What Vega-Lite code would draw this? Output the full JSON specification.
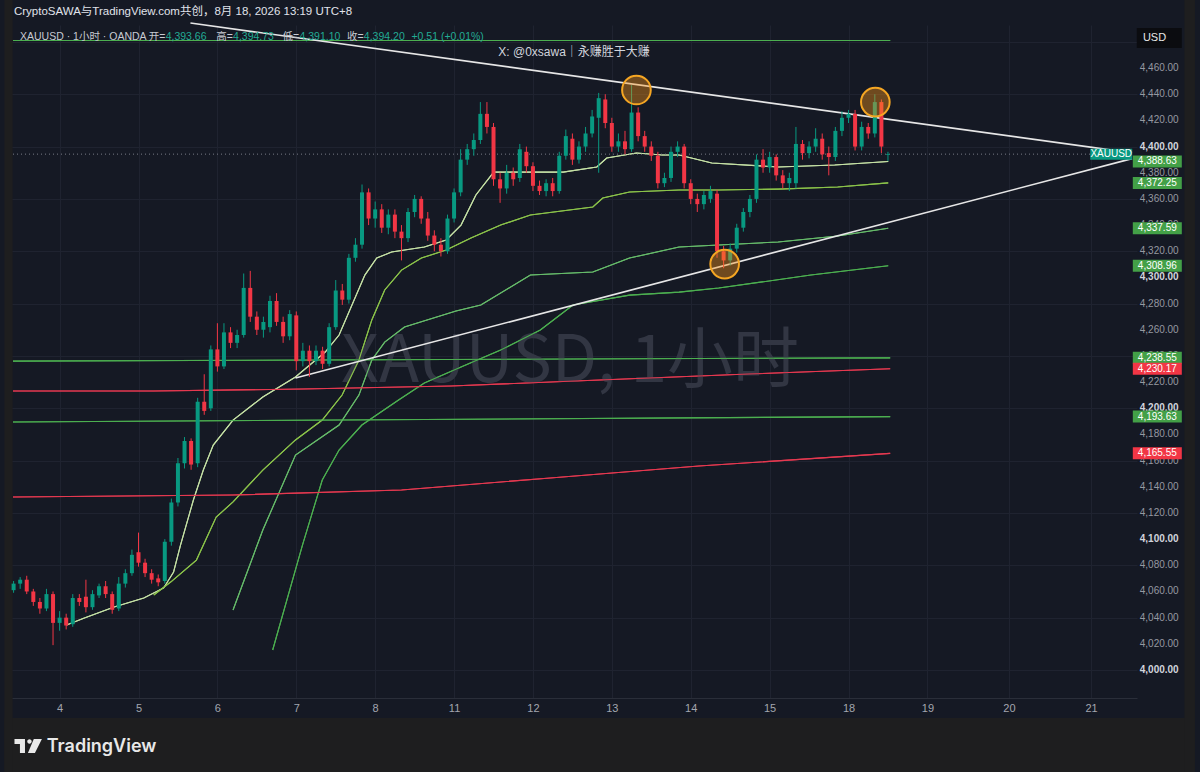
{
"$schema":"https://vega.github.io/schema/vega-lite/v6.json",
"width":1129,"height":673,
"autosize":{"type":"none"},
"padding":{"left":8,"top":25,"right":63,"bottom":74},
"background":"#151924",
"config":{"view":{"stroke":null,"fill":"#151924"},"font":"Liberation Sans"},
"resolve":{"scale":{"color":"independent"}},
"datasets":{
"ticks":[{"p":4000},{"p":4020},{"p":4040},{"p":4060},{"p":4080},{"p":4100},{"p":4120},{"p":4140},{"p":4160},{"p":4180},{"p":4200},{"p":4220},{"p":4240},{"p":4260},{"p":4280},{"p":4300},{"p":4320},{"p":4340},{"p":4360},{"p":4380},{"p":4400},{"p":4420},{"p":4440},{"p":4460}],
"candles":[
{"i":-7,"o":4061,"h":4068,"l":4059,"c":4066},{"i":-6,"o":4066,"h":4071,"l":4062,"c":4069},{"i":-5,"o":4069,"h":4072,"l":4058,"c":4060},{"i":-4,"o":4060,"h":4062,"l":4049,"c":4052},{"i":-3,"o":4052,"h":4055,"l":4043,"c":4047},{"i":-2,"o":4047,"h":4062,"l":4045,"c":4058},{"i":-1,"o":4058,"h":4060,"l":4019,"c":4036},
{"i":0,"o":4036,"h":4045,"l":4030,"c":4040},{"i":1,"o":4040,"h":4043,"l":4031,"c":4034},{"i":2,"o":4035,"h":4058,"l":4033,"c":4055},{"i":3,"o":4055,"h":4058,"l":4049,"c":4052},{"i":4,"o":4056,"h":4069,"l":4044,"c":4048},{"i":5,"o":4048,"h":4061,"l":4046,"c":4058},{"i":6,"o":4057,"h":4066,"l":4055,"c":4064},{"i":7,"o":4064,"h":4068,"l":4055,"c":4058},{"i":8,"o":4058,"h":4060,"l":4043,"c":4046},{"i":9,"o":4047,"h":4071,"l":4045,"c":4066},{"i":10,"o":4066,"h":4077,"l":4063,"c":4074},{"i":11,"o":4074,"h":4092,"l":4072,"c":4088},
{"i":12,"o":4090,"h":4105,"l":4079,"c":4082},{"i":13,"o":4082,"h":4085,"l":4071,"c":4074},{"i":14,"o":4074,"h":4077,"l":4066,"c":4069},{"i":15,"o":4070,"h":4073,"l":4064,"c":4067},{"i":16,"o":4068,"h":4100,"l":4066,"c":4098},{"i":17,"o":4098,"h":4131,"l":4095,"c":4128},{"i":18,"o":4128,"h":4162,"l":4125,"c":4158},{"i":19,"o":4158,"h":4178,"l":4154,"c":4175},{"i":20,"o":4175,"h":4177,"l":4153,"c":4157},{"i":21,"o":4158,"h":4208,"l":4155,"c":4205},{"i":22,"o":4205,"h":4226,"l":4195,"c":4198},{"i":23,"o":4200,"h":4248,"l":4198,"c":4245},
{"i":24,"o":4245,"h":4265,"l":4228,"c":4232},{"i":25,"o":4232,"h":4265,"l":4230,"c":4258},{"i":26,"o":4258,"h":4262,"l":4246,"c":4250},{"i":27,"o":4250,"h":4260,"l":4246,"c":4256},{"i":28,"o":4256,"h":4303,"l":4254,"c":4292},{"i":29,"o":4292,"h":4305,"l":4266,"c":4270},{"i":30,"o":4270,"h":4274,"l":4256,"c":4260},{"i":31,"o":4260,"h":4270,"l":4254,"c":4266},{"i":32,"o":4262,"h":4286,"l":4258,"c":4282},{"i":33,"o":4282,"h":4288,"l":4263,"c":4266},{"i":34,"o":4266,"h":4270,"l":4250,"c":4255},{"i":35,"o":4255,"h":4275,"l":4252,"c":4272},
{"i":36,"o":4271,"h":4274,"l":4229,"c":4236},{"i":37,"o":4236,"h":4250,"l":4232,"c":4244},{"i":38,"o":4244,"h":4248,"l":4224,"c":4236},{"i":39,"o":4236,"h":4248,"l":4233,"c":4244},{"i":40,"o":4244,"h":4247,"l":4230,"c":4234},{"i":41,"o":4234,"h":4265,"l":4232,"c":4262},{"i":42,"o":4262,"h":4298,"l":4260,"c":4290},{"i":43,"o":4290,"h":4295,"l":4279,"c":4283},{"i":44,"o":4283,"h":4318,"l":4280,"c":4315},{"i":45,"o":4315,"h":4330,"l":4312,"c":4325},{"i":46,"o":4325,"h":4371,"l":4322,"c":4365},{"i":47,"o":4365,"h":4368,"l":4340,"c":4345},
{"i":48,"o":4345,"h":4358,"l":4338,"c":4352},{"i":49,"o":4352,"h":4356,"l":4334,"c":4338},{"i":50,"o":4338,"h":4352,"l":4333,"c":4348},{"i":51,"o":4348,"h":4352,"l":4330,"c":4335},{"i":52,"o":4335,"h":4340,"l":4313,"c":4330},{"i":53,"o":4330,"h":4353,"l":4327,"c":4350},{"i":54,"o":4350,"h":4363,"l":4346,"c":4360},{"i":55,"o":4360,"h":4362,"l":4341,"c":4345},{"i":56,"o":4345,"h":4350,"l":4328,"c":4332},{"i":57,"o":4332,"h":4336,"l":4320,"c":4325},{"i":58,"o":4325,"h":4330,"l":4316,"c":4320},{"i":59,"o":4320,"h":4348,"l":4318,"c":4345},
{"i":60,"o":4345,"h":4368,"l":4342,"c":4365},{"i":61,"o":4365,"h":4398,"l":4362,"c":4390},{"i":62,"o":4390,"h":4402,"l":4386,"c":4398},{"i":63,"o":4398,"h":4410,"l":4393,"c":4405},{"i":64,"o":4405,"h":4434,"l":4402,"c":4425},{"i":65,"o":4425,"h":4434,"l":4410,"c":4415},{"i":66,"o":4415,"h":4418,"l":4370,"c":4375},{"i":67,"o":4375,"h":4380,"l":4357,"c":4368},{"i":68,"o":4368,"h":4386,"l":4364,"c":4380},{"i":69,"o":4380,"h":4384,"l":4370,"c":4375},{"i":70,"o":4376,"h":4402,"l":4373,"c":4398},{"i":71,"o":4396,"h":4400,"l":4380,"c":4385},
{"i":72,"o":4385,"h":4388,"l":4366,"c":4370},{"i":73,"o":4370,"h":4374,"l":4363,"c":4366},{"i":74,"o":4366,"h":4375,"l":4362,"c":4372},{"i":75,"o":4372,"h":4376,"l":4362,"c":4366},{"i":76,"o":4366,"h":4396,"l":4364,"c":4393},{"i":77,"o":4393,"h":4413,"l":4390,"c":4408},{"i":78,"o":4406,"h":4410,"l":4386,"c":4390},{"i":79,"o":4390,"h":4404,"l":4387,"c":4400},{"i":80,"o":4400,"h":4415,"l":4396,"c":4410},{"i":81,"o":4410,"h":4428,"l":4407,"c":4423},{"i":82,"o":4422,"h":4441,"l":4380,"c":4437},{"i":83,"o":4436,"h":4440,"l":4414,"c":4418},
{"i":84,"o":4418,"h":4422,"l":4396,"c":4400},{"i":85,"o":4400,"h":4410,"l":4396,"c":4404},{"i":86,"o":4404,"h":4412,"l":4394,"c":4398},{"i":87,"o":4398,"h":4447,"l":4396,"c":4426},{"i":88,"o":4426,"h":4430,"l":4404,"c":4408},{"i":89,"o":4408,"h":4412,"l":4396,"c":4400},{"i":90,"o":4400,"h":4404,"l":4389,"c":4393},{"i":91,"o":4393,"h":4396,"l":4368,"c":4372},{"i":92,"o":4372,"h":4380,"l":4369,"c":4376},{"i":93,"o":4376,"h":4400,"l":4373,"c":4396},{"i":94,"o":4396,"h":4404,"l":4392,"c":4400},{"i":95,"o":4400,"h":4402,"l":4368,"c":4372},
{"i":96,"o":4372,"h":4375,"l":4356,"c":4360},{"i":97,"o":4360,"h":4364,"l":4350,"c":4356},{"i":98,"o":4356,"h":4366,"l":4352,"c":4363},{"i":99,"o":4360,"h":4370,"l":4357,"c":4366},{"i":100,"o":4364,"h":4367,"l":4315,"c":4320},{"i":101,"o":4320,"h":4324,"l":4307,"c":4313},{"i":102,"o":4313,"h":4326,"l":4309,"c":4322},{"i":103,"o":4322,"h":4341,"l":4319,"c":4338},{"i":104,"o":4338,"h":4353,"l":4335,"c":4350},{"i":105,"o":4350,"h":4363,"l":4346,"c":4360},{"i":106,"o":4360,"h":4394,"l":4357,"c":4390},{"i":107,"o":4390,"h":4398,"l":4380,"c":4384},
{"i":108,"o":4384,"h":4396,"l":4380,"c":4392},{"i":109,"o":4392,"h":4394,"l":4374,"c":4378},{"i":110,"o":4378,"h":4382,"l":4368,"c":4372},{"i":111,"o":4372,"h":4380,"l":4366,"c":4376},{"i":112,"o":4372,"h":4415,"l":4368,"c":4402},{"i":113,"o":4402,"h":4405,"l":4390,"c":4395},{"i":114,"o":4395,"h":4404,"l":4391,"c":4400},{"i":115,"o":4400,"h":4414,"l":4396,"c":4406},{"i":116,"o":4406,"h":4410,"l":4390,"c":4394},{"i":117,"o":4395,"h":4400,"l":4378,"c":4392},{"i":118,"o":4392,"h":4415,"l":4389,"c":4412},{"i":119,"o":4412,"h":4427,"l":4408,"c":4422},
{"i":120,"o":4422,"h":4428,"l":4418,"c":4425},{"i":121,"o":4425,"h":4428,"l":4397,"c":4400},{"i":122,"o":4400,"h":4419,"l":4397,"c":4415},{"i":123,"o":4415,"h":4418,"l":4406,"c":4410},{"i":124,"o":4410,"h":4440,"l":4407,"c":4434},{"i":125,"o":4434,"h":4436,"l":4395,"c":4400},{"i":126,"o":4393.66,"h":4396,"l":4389,"c":4394.2}
],
"lines":[
{"s":"a","i":1.06,"v":4034.4},{"s":"a","i":3.77,"v":4039.7},{"s":"a","i":8.29,"v":4048.2},{"s":"a","i":12.81,"v":4055.0},{"s":"a","i":15.83,"v":4062.7},{"s":"a","i":17.34,"v":4074.9},{"s":"a","i":18.39,"v":4095.5},{"s":"a","i":20.35,"v":4129.9},{"s":"a","i":21.86,"v":4152.8},{"s":"a","i":23.37,"v":4171.9},{"s":"a","i":26.38,"v":4191.0},{"s":"a","i":30.91,"v":4208.6},{"s":"a","i":35.88,"v":4223.9},{"s":"a","i":40.40,"v":4243.0},{"s":"a","i":42.51,"v":4256.0},{"s":"a","i":44.47,"v":4278.9},{"s":"a","i":46.43,"v":4301.8},{"s":"a","i":48.24,"v":4314.8},{"s":"a","i":50.50,"v":4319.4},{"s":"a","i":55.48,"v":4323.2},{"s":"a","i":58.80,"v":4328.6},{"s":"a","i":61.06,"v":4340.0},{"s":"a","i":63.32,"v":4363.0},{"s":"a","i":66.03,"v":4380.5},{"s":"a","i":71.61,"v":4380.5},{"s":"a","i":76.59,"v":4380.5},{"s":"a","i":81.71,"v":4384.4},{"s":"a","i":83.22,"v":4391.2},{"s":"a","i":87.74,"v":4395.1},{"s":"a","i":91.66,"v":4393.5},{"s":"a","i":94.23,"v":4393.5},{"s":"a","i":99.20,"v":4387.4},{"s":"a","i":109.30,"v":4384.4},{"s":"a","i":117.90,"v":4385.9},{"s":"a","i":126.04,"v":4388.63},
{"s":"b","i":14.32,"v":4057.3},{"s":"b","i":16.89,"v":4067.2},{"s":"b","i":20.81,"v":4084.0},{"s":"b","i":23.82,"v":4116.9},{"s":"b","i":26.38,"v":4128.4},{"s":"b","i":30.91,"v":4152.8},{"s":"b","i":35.88,"v":4175.8},{"s":"b","i":39.95,"v":4191.0},{"s":"b","i":42.97,"v":4210.1},{"s":"b","i":45.53,"v":4236.9},{"s":"b","i":47.49,"v":4267.5},{"s":"b","i":49.45,"v":4290.4},{"s":"b","i":52.01,"v":4305.6},{"s":"b","i":55.03,"v":4314.8},{"s":"b","i":58.80,"v":4320.9},{"s":"b","i":62.57,"v":4330.1},{"s":"b","i":67.09,"v":4340.0},{"s":"b","i":71.61,"v":4347.7},{"s":"b","i":81.11,"v":4353.8},{"s":"b","i":82.62,"v":4360.7},{"s":"b","i":86.69,"v":4365.3},{"s":"b","i":94.23,"v":4366.8},{"s":"b","i":100.26,"v":4366.8},{"s":"b","i":109.30,"v":4367.5},{"s":"b","i":118.35,"v":4369.1},{"s":"b","i":126.04,"v":4372.25},
{"s":"c","i":26.38,"v":4045.8},{"s":"c","i":30.91,"v":4107.0},{"s":"c","i":35.88,"v":4164.3},{"s":"c","i":42.51,"v":4187.2},{"s":"c","i":45.53,"v":4210.1},{"s":"c","i":47.49,"v":4236.9},{"s":"c","i":49.45,"v":4250.6},{"s":"c","i":52.46,"v":4262.1},{"s":"c","i":60.30,"v":4274.3},{"s":"c","i":64.07,"v":4278.9},{"s":"c","i":71.61,"v":4301.8},{"s":"c","i":81.11,"v":4304.1},{"s":"c","i":86.69,"v":4314.8},{"s":"c","i":94.23,"v":4323.2},{"s":"c","i":100.26,"v":4324.8},{"s":"c","i":109.30,"v":4327.1},{"s":"c","i":118.35,"v":4331.6},{"s":"c","i":126.04,"v":4337.59},
{"s":"d","i":32.41,"v":4015.3},{"s":"d","i":36.94,"v":4095.5},{"s":"d","i":39.95,"v":4145.2},{"s":"d","i":42.51,"v":4168.1},{"s":"d","i":45.98,"v":4187.2},{"s":"d","i":51.56,"v":4206.3},{"s":"d","i":55.48,"v":4219.3},{"s":"d","i":61.06,"v":4231.5},{"s":"d","i":67.09,"v":4244.5},{"s":"d","i":73.12,"v":4259.8},{"s":"d","i":78.09,"v":4278.9},{"s":"d","i":86.69,"v":4286.5},{"s":"d","i":94.23,"v":4288.8},{"s":"d","i":100.26,"v":4291.9},{"s":"d","i":114.28,"v":4301.8},{"s":"d","i":126.04,"v":4308.96},
{"s":"g1","i":-7.09,"v":4481},{"s":"g1","i":126.34,"v":4481},
{"s":"g2","i":-7.09,"v":4236},{"s":"g2","i":126.34,"v":4238.55},
{"s":"g3","i":-7.09,"v":4189.5},{"s":"g3","i":126.34,"v":4193.63},
{"s":"r1","i":-7.09,"v":4213.2},{"s":"r1","i":14.32,"v":4213.2},{"s":"r1","i":36.94,"v":4214.7},{"s":"r1","i":59.55,"v":4217.0},{"s":"r1","i":82.17,"v":4221.6},{"s":"r1","i":104.78,"v":4226.2},{"s":"r1","i":126.34,"v":4230.17},
{"s":"r2","i":-7.09,"v":4132.2},{"s":"r2","i":26.38,"v":4133.7},{"s":"r2","i":52.01,"v":4137.6},{"s":"r2","i":74.63,"v":4146.7},{"s":"r2","i":97.24,"v":4155.9},{"s":"r2","i":126.34,"v":4165.55}
],
"trend":[
{"s":"down","i":19.9,"v":4494.4},{"s":"down","i":163.12,"v":4395.2},
{"s":"up","i":35.88,"v":4223.1},{"s":"up","i":163.12,"v":4390.8}
],
"circles":[{"i":87.74,"v":4443.2},{"i":101.16,"v":4310.2},{"i":124.08,"v":4434.0}],
"tags":[
{"v":4388.63,"label":"4,388.63","k":"g"},{"v":4372.25,"label":"4,372.25","k":"g"},{"v":4337.59,"label":"4,337.59","k":"g"},{"v":4308.96,"label":"4,308.96","k":"g"},{"v":4238.55,"label":"4,238.55","k":"g"},{"v":4230.17,"label":"4,230.17","k":"r"},{"v":4193.63,"label":"4,193.63","k":"g"},{"v":4165.55,"label":"4,165.55","k":"r"}
]
},
"layer":[
{"data":{"name":"lines"},"mark":{"type":"line","strokeWidth":1.1},
 "encoding":{
  "x":{"field":"i","type":"quantitative","scale":{"domain":[-7.09,163.12],"nice":false,"zero":false},
   "axis":{"title":null,"values":[0,12,24,36,48,60,72,84,96,108,120,132,144.4,156.9],"labelExpr":"['4','5','6','7','8','11','12','13','14','15','18','19','20','21'][round(datum.value/12)]","grid":true,"gridColor":"#1f2330","domain":true,"domainColor":"#2a2e39","ticks":false,"labelPadding":10,"labelBaseline":"middle","labelColor":"#a3a6af","labelFontSize":11,"labelFont":"Liberation Sans","labelFlush":false,"labelOverlap":false}},
  "y":{"field":"v","type":"quantitative","scale":{"domain":[3978.6,4492.9],"nice":false,"zero":false},
   "axis":{"title":null,"orient":"right","values":[4000,4020,4040,4060,4080,4100,4120,4140,4160,4180,4200,4220,4240,4260,4280,4300,4320,4340,4360,4380,4400,4420,4440,4460,4480],"labels":false,"grid":true,"gridColor":"#1f2330","domain":false,"ticks":false}},
  "color":{"field":"s","type":"nominal","legend":null,"scale":{"domain":["a","b","c","d","g1","g2","g3","r1","r2"],"range":["#c5e1a5","#8bc34a","#66bb6a","#4caf50","#4caf50","#4caf50","#4caf50","#e53950","#e53950"]}}}},
{"data":{"values":[{}]},"mark":{"type":"rect","color":"#1e1e1f"},"encoding":{"x":{"datum":-8.4,"type":"quantitative"},"x2":{"datum":172.7},"y":{"datum":3920,"type":"quantitative"},"y2":{"datum":3963.3}}},
{"data":{"values":[{}]},"mark":{"type":"rect","color":"#1e1e1f"},"encoding":{"x":{"datum":171.11,"type":"quantitative"},"x2":{"datum":172.7},"y":{"datum":3920,"type":"quantitative"},"y2":{"datum":4512}}},
{"data":{"values":[{}]},"mark":{"type":"rect","color":"#1e1e1f"},"encoding":{"x":{"datum":-8.4,"type":"quantitative"},"x2":{"datum":-7.15},"y":{"datum":3920,"type":"quantitative"},"y2":{"datum":4512}}},
{"data":{"name":"ticks"},"transform":[{"filter":"datum.p % 100 !== 0"}],"mark":{"type":"text","fontSize":10,"color":"#9598a1","align":"left","baseline":"middle"},"encoding":{"x":{"datum":164.3,"type":"quantitative"},"y":{"field":"p","type":"quantitative"},"text":{"field":"p","type":"quantitative","format":",.2f"}}},
{"data":{"name":"ticks"},"transform":[{"filter":"datum.p % 100 === 0"}],"mark":{"type":"text","fontSize":10,"fontWeight":"bold","color":"#d1d4dc","align":"left","baseline":"middle"},"encoding":{"x":{"datum":164.3,"type":"quantitative"},"y":{"field":"p","type":"quantitative"},"text":{"field":"p","type":"quantitative","format":",.2f"}}},
{"data":{"values":[{"t":"XAUUSD, 1小时"}]},"mark":{"type":"text","fontSize":66,"color":"#323643","align":"center","baseline":"middle","font":"Noto Sans CJK SC"},"encoding":{"x":{"datum":77.64,"type":"quantitative"},"y":{"datum":4235.3,"type":"quantitative"},"text":{"field":"t"}}},
{"data":{"name":"lines"},"mark":{"type":"line","strokeWidth":1.1},"encoding":{"x":{"field":"i","type":"quantitative"},"y":{"field":"v","type":"quantitative"},"color":{"field":"s","type":"nominal","legend":null,"scale":{"domain":["a","b","c","d","g1","g2","g3","r1","r2"],"range":["#c5e1a5","#8bc34a","#66bb6a","#4caf50","#4caf50","#4caf50","#4caf50","#e53950","#e53950"]}}}},
{"data":{"values":[{"i":-7.09,"v":4394.2},{"i":163.12,"v":4394.2}]},"mark":{"type":"line","color":"#787b86","strokeWidth":1,"strokeDash":[1,3]},"encoding":{"x":{"field":"i","type":"quantitative"},"y":{"field":"v","type":"quantitative"}}},
{"data":{"name":"trend"},"mark":{"type":"line","color":"#e6e6e6","strokeWidth":1.6},"encoding":{"x":{"field":"i","type":"quantitative"},"y":{"field":"v","type":"quantitative"},"detail":{"field":"s"}}},
{"data":{"name":"candles"},"mark":{"type":"rule","strokeWidth":1},"encoding":{"x":{"field":"i","type":"quantitative"},"y":{"field":"l","type":"quantitative"},"y2":{"field":"h"},"color":{"condition":{"test":"datum.c >= datum.o","value":"#089981"},"value":"#f23645"}}},
{"data":{"name":"candles"},"mark":{"type":"bar","width":4},"encoding":{"x":{"field":"i","type":"quantitative"},"y":{"field":"o","type":"quantitative"},"y2":{"field":"c"},"color":{"condition":{"test":"datum.c >= datum.o","value":"#089981"},"value":"#f23645"}}},
{"data":{"name":"circles"},"mark":{"type":"point","shape":"circle","size":820,"filled":false,"fill":"#f7931a","fillOpacity":0.4,"stroke":"#f5a623","strokeWidth":2,"opacity":1},"encoding":{"x":{"field":"i","type":"quantitative"},"y":{"field":"v","type":"quantitative"}}},
{"data":{"name":"tags"},"mark":{"type":"point","filled":true,"opacity":1,"size":2401,"shape":"M-1,-0.245L1,-0.245L1,0.245L-1,0.245Z"},"encoding":{"x":{"datum":166.97,"type":"quantitative"},"y":{"field":"v","type":"quantitative"},"color":{"field":"k","type":"nominal","legend":null,"scale":{"domain":["g","r"],"range":["#43a047","#f23645"]}}}},
{"data":{"name":"tags"},"mark":{"type":"text","fontSize":10,"color":"#ffffff","align":"center","baseline":"middle"},"encoding":{"x":{"datum":166.97,"type":"quantitative"},"y":{"field":"v","type":"quantitative"},"text":{"field":"label"}}},
{"data":{"values":[{"t":"XAUUSD"}]},"mark":{"type":"point","filled":true,"opacity":1,"color":"#089981","size":1764,"shape":"M-1,-0.262L1,-0.262L1,0.262L-1,0.262Z"},"encoding":{"x":{"datum":159.96,"type":"quantitative"},"y":{"datum":4394.2,"type":"quantitative"}}},
{"data":{"values":[{"t":"XAUUSD"}]},"mark":{"type":"text","fontSize":10,"color":"#ffffff","align":"center","baseline":"middle"},"encoding":{"x":{"datum":159.96,"type":"quantitative"},"y":{"datum":4394.2,"type":"quantitative"},"text":{"field":"t"}}},
{"data":{"values":[{"t":"USD"}]},"mark":{"type":"point","filled":true,"opacity":1,"color":"#0b0c10","size":2025,"shape":"M-1,-0.444L1,-0.444L1,0.444L-1,0.444Z"},"encoding":{"x":{"datum":167.27,"type":"quantitative"},"y":{"datum":4482.9,"type":"quantitative"}}},
{"data":{"values":[{"t":"USD"}]},"mark":{"type":"text","fontSize":11,"color":"#e8e8e8","align":"left","baseline":"middle"},"encoding":{"x":{"datum":164.78,"type":"quantitative"},"y":{"datum":4482.9,"type":"quantitative"},"text":{"field":"t"}}},
{"data":{"values":[{"t":"CryptoSAWA与TradingView.com共创，8月 18, 2026 13:19 UTC+8"}]},"mark":{"type":"text","fontSize":11.5,"color":"#e0e3eb","align":"left","baseline":"middle","font":"Liberation Sans, Noto Sans CJK SC"},"encoding":{"x":{"datum":-6.94,"type":"quantitative"},"y":{"datum":4502.5,"type":"quantitative"},"text":{"field":"t"}}},
{"data":{"values":[{"t":"XAUUSD · 1小时 · OANDA"}]},"mark":{"type":"text","fontSize":10.5,"color":"#c8cbd3","align":"left","baseline":"middle","font":"Liberation Sans, Noto Sans CJK SC"},"encoding":{"x":{"datum":-6.03,"type":"quantitative"},"y":{"datum":4483.7,"type":"quantitative"},"text":{"field":"t"}}},
{"data":{"values":[{"t":"开="}]},"mark":{"type":"text","fontSize":10.5,"color":"#c8cbd3","align":"left","baseline":"middle","font":"Liberation Sans, Noto Sans CJK SC"},"encoding":{"x":{"datum":13.57,"type":"quantitative"},"y":{"datum":4483.7,"type":"quantitative"},"text":{"field":"t"}}},
{"data":{"values":[{"t":"4,393.66"}]},"mark":{"type":"text","fontSize":10.5,"color":"#22ab94","align":"left","baseline":"middle"},"encoding":{"x":{"datum":16.13,"type":"quantitative"},"y":{"datum":4483.7,"type":"quantitative"},"text":{"field":"t"}}},
{"data":{"values":[{"t":"高="}]},"mark":{"type":"text","fontSize":10.5,"color":"#c8cbd3","align":"left","baseline":"middle","font":"Liberation Sans, Noto Sans CJK SC"},"encoding":{"x":{"datum":23.82,"type":"quantitative"},"y":{"datum":4483.7,"type":"quantitative"},"text":{"field":"t"}}},
{"data":{"values":[{"t":"4,394.73"}]},"mark":{"type":"text","fontSize":10.5,"color":"#22ab94","align":"left","baseline":"middle"},"encoding":{"x":{"datum":26.38,"type":"quantitative"},"y":{"datum":4483.7,"type":"quantitative"},"text":{"field":"t"}}},
{"data":{"values":[{"t":"低="}]},"mark":{"type":"text","fontSize":10.5,"color":"#c8cbd3","align":"left","baseline":"middle","font":"Liberation Sans, Noto Sans CJK SC"},"encoding":{"x":{"datum":33.92,"type":"quantitative"},"y":{"datum":4483.7,"type":"quantitative"},"text":{"field":"t"}}},
{"data":{"values":[{"t":"4,391.10"}]},"mark":{"type":"text","fontSize":10.5,"color":"#22ab94","align":"left","baseline":"middle"},"encoding":{"x":{"datum":36.48,"type":"quantitative"},"y":{"datum":4483.7,"type":"quantitative"},"text":{"field":"t"}}},
{"data":{"values":[{"t":"收="}]},"mark":{"type":"text","fontSize":10.5,"color":"#c8cbd3","align":"left","baseline":"middle","font":"Liberation Sans, Noto Sans CJK SC"},"encoding":{"x":{"datum":43.72,"type":"quantitative"},"y":{"datum":4483.7,"type":"quantitative"},"text":{"field":"t"}}},
{"data":{"values":[{"t":"4,394.20"}]},"mark":{"type":"text","fontSize":10.5,"color":"#22ab94","align":"left","baseline":"middle"},"encoding":{"x":{"datum":46.28,"type":"quantitative"},"y":{"datum":4483.7,"type":"quantitative"},"text":{"field":"t"}}},
{"data":{"values":[{"t":"+0.51 (+0.01%)"}]},"mark":{"type":"text","fontSize":10.5,"color":"#22ab94","align":"left","baseline":"middle"},"encoding":{"x":{"datum":53.52,"type":"quantitative"},"y":{"datum":4483.7,"type":"quantitative"},"text":{"field":"t"}}},
{"data":{"values":[{"t":"X: @0xsawa｜永赚胜于大赚"}]},"mark":{"type":"text","fontSize":12,"color":"#d1d4dc","align":"center","baseline":"middle","font":"Liberation Sans, Noto Sans CJK SC"},"encoding":{"x":{"datum":78.25,"type":"quantitative"},"y":{"datum":4472.2,"type":"quantitative"},"text":{"field":"t"}}},
{"data":{"values":[{"t":"logo"}]},"mark":{"type":"point","filled":true,"opacity":1,"color":"#e8e8e8","size":784,"shape":"M-0.96,-0.5L-0.21,-0.5L-0.21,0.5L-0.57,0.5L-0.57,-0.14L-0.96,-0.14Z M-0.05,-0.32a0.16,0.16 0 1,0 0.32,0a0.16,0.16 0 1,0 -0.32,0Z M0.42,-0.5L1,-0.5L0.5,0.5L0,0.5Z"},"encoding":{"x":{"datum":-4.82,"type":"quantitative"},"y":{"datum":3941.9,"type":"quantitative"}}},
{"data":{"values":[{"t":"TradingView"}]},"mark":{"type":"text","fontSize":18,"fontWeight":600,"color":"#e8e8e8","align":"left","baseline":"alphabetic","font":"Inter"},"encoding":{"x":{"datum":-1.96,"type":"quantitative"},"y":{"datum":3937.4,"type":"quantitative"},"text":{"field":"t"}}}
]
}
